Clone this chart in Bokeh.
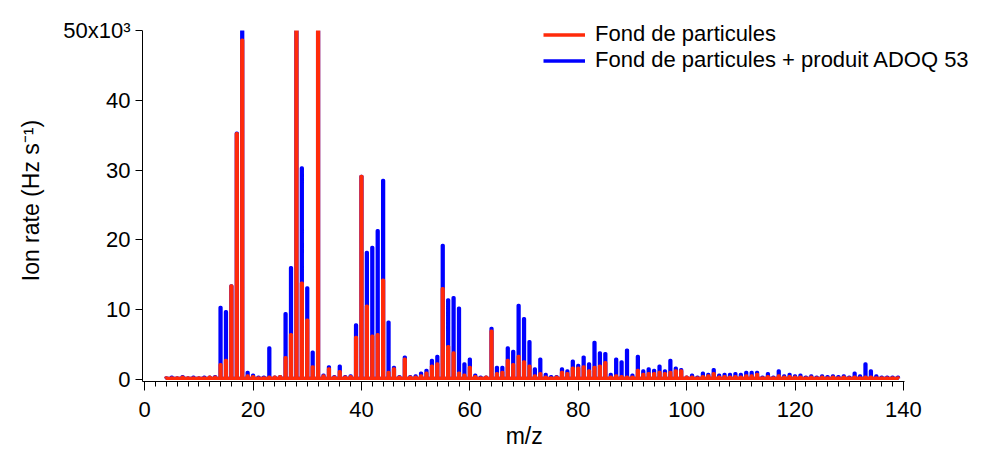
from bokeh.plotting import figure
from bokeh.models import Range1d, FixedTicker, Legend, LegendItem, ColumnDataSource, BoxAnnotation
from bokeh.embed import file_html
from bokeh.resources import INLINE

# m/z channels (integer masses)
mz = list(range(4, 140))

# Ion rate in units of 10^3 Hz s^-1
fond = [
    0.2, 0.2, 0.2, 0.3, 0.2, 0.2, 0.2, 0.2, 0.3, 0.3,          # 4-13
    2.1, 2.7, 13.4, 35.2, 48.6, 0.5, 0.4, 0.2, 0.2, 0.3,       # 14-23
    0.3, 0.4, 3.1, 6.4, 120.0, 13.8, 8.5, 1.8, 60.0, 0.5,      # 24-33
    1.5, 0.3, 1.1, 0.3, 0.4, 6.0, 29.1, 10.5, 6.2, 6.4,        # 34-43
    14.2, 1.0, 1.5, 0.3, 2.9, 0.3, 0.3, 0.5, 0.9, 1.9,         # 44-53
    2.2, 13.0, 4.7, 3.8, 0.9, 0.6, 1.7, 0.4, 0.2, 0.3,         # 54-63
    6.9, 0.8, 1.0, 2.7, 2.1, 3.3, 2.5, 1.9, 0.5, 0.8,          # 64-73
    0.3, 0.2, 0.3, 1.0, 0.8, 1.6, 1.6, 1.8, 1.2, 1.7,          # 74-83
    1.9, 2.4, 0.3, 0.5, 0.4, 0.3, 0.3, 1.3, 0.7, 0.8,          # 84-93
    0.8, 1.0, 0.8, 1.0, 1.2, 1.2, 0.3, 0.3, 0.2, 0.4,          # 94-103
    0.5, 0.8, 0.3, 0.4, 0.3, 0.4, 0.3, 0.5, 0.5, 0.7,          # 104-113
    0.2, 0.4, 0.2, 0.5, 0.3, 0.4, 0.3, 0.3, 0.2, 0.3,          # 114-123
    0.2, 0.3, 0.2, 0.3, 0.2, 0.3, 0.2, 0.3, 0.2, 0.3,          # 124-133
    0.3, 0.2, 0.2, 0.2, 0.2, 0.2,                              # 134-139
]
fond_produit = [
    0.2, 0.3, 0.2, 0.4, 0.2, 0.3, 0.2, 0.3, 0.3, 0.4,          # 4-13
    10.3, 9.7, 13.4, 35.3, 58.0, 1.0, 0.6, 0.3, 0.3, 4.5,      # 14-23
    0.3, 0.4, 9.4, 16.0, 125.0, 30.3, 13.1, 3.9, 62.0, 0.6,    # 24-33
    1.8, 0.4, 1.9, 0.4, 0.5, 7.8, 29.1, 18.2, 18.9, 21.3,      # 34-43
    28.5, 8.2, 1.7, 0.4, 3.2, 0.4, 0.5, 0.9, 1.3, 2.7,         # 44-53
    3.3, 19.2, 11.4, 11.7, 10.2, 2.2, 2.9, 0.6, 0.3, 0.3,      # 54-63
    7.3, 1.7, 1.7, 4.5, 4.0, 10.6, 8.7, 5.4, 1.5, 2.9,         # 64-73
    0.7, 0.4, 0.4, 1.5, 1.2, 2.6, 2.0, 3.2, 2.2, 5.3,          # 74-83
    3.8, 3.7, 0.7, 2.9, 2.5, 4.2, 0.6, 3.3, 1.2, 1.5,          # 84-93
    1.3, 1.9, 1.2, 2.7, 1.6, 1.4, 0.3, 0.6, 0.3, 0.9,          # 94-103
    0.7, 1.4, 0.6, 0.7, 0.7, 0.8, 0.7, 1.0, 1.0, 1.0,          # 104-113
    0.3, 0.8, 0.3, 1.2, 0.5, 0.7, 0.5, 0.6, 0.3, 0.5,          # 114-123
    0.3, 0.5, 0.4, 0.5, 0.4, 0.5, 0.3, 0.9, 0.5, 2.2,          # 124-133
    1.2, 0.5, 0.3, 0.3, 0.3, 0.3,                              # 134-139
]
baseline = 0.15

x_ticks = [0, 20, 40, 60, 80, 100, 120, 140]
y_ticks = [0, 10, 20, 30, 40, 50]
y_tick_labels = ["0", "10", "20", "30", "40", "50x10\u00b3"]
y_max = 50000

RED = "#ff2a0a"
BLUE = "#0000ff"
FONT = "Liberation Sans"
NBSP = "\u00a0"


def spectrum(vals):
    xs, ys = [], []
    b = baseline * 1000.0
    for m, v in zip(mz, vals):
        h = min(v * 1000.0, y_max)  # values beyond the axis top are clipped, as on the plot
        xs += [m - 0.08, m - 0.08, m + 0.08, m + 0.08]
        ys += [b, h, h, b]
    return ColumnDataSource(dict(x=xs, y=ys))


# frame: x from -0.4 (px 142) with 762 px per 140.6 units, extended to the window's right edge
px_per_x = 762 / 140.6
x_end = -0.4 + 840 / px_per_x
# y: 351 px per 50300 units, extended up to the window's top edge (30 px above 50k)
px_per_y = 351 / 50300
y_end = y_max + 30 / px_per_y

p = figure(width=982, height=451, output_backend="svg", toolbar_location=None,
           x_range=Range1d(-0.4, x_end), y_range=Range1d(-300, y_end),
           min_border_left=142, min_border_right=0,
           min_border_top=0, min_border_bottom=70)
p.outline_line_color = None
p.grid.visible = False
p.background_fill_color = "white"
p.border_fill_color = "white"

r_blue = p.line("x", "y", source=spectrum(fond_produit), line_color=BLUE,
                line_width=3.4, line_join="round")
r_red = p.line("x", "y", source=spectrum(fond), line_color=RED,
               line_width=3.4, line_join="round")

# hide line caps above the top of the y axis
p.add_layout(BoxAnnotation(bottom=y_max, fill_color="white", fill_alpha=1.0,
                           line_color=None))

# x axis (label padded so it stays centred under the drawn axis, not the wider frame)
xa = p.xaxis[0]
xa.ticker = FixedTicker(ticks=x_ticks, minor_ticks=list(range(0, 141, 2)))
xa.bounds = (-0.4, 140.2)
xa.axis_label = "m/z" + NBSP * 12
# y axis
ya = p.yaxis[0]
ya.ticker = FixedTicker(ticks=[t * 1000 for t in y_ticks], minor_ticks=[])
ya.bounds = (-300, y_max)
ya.major_label_overrides = {t * 1000: lab for t, lab in zip(y_ticks, y_tick_labels)}
ya.axis_label = "Ion rate (Hz s\u207b\u00b9)" + NBSP * 3

for ax in (xa, ya):
    ax.axis_line_color = "black"
    ax.axis_line_width = 1
    ax.major_tick_line_color = "black"
    ax.minor_tick_line_color = "black"
    ax.major_tick_in = 0
    ax.minor_tick_in = 0
    ax.major_label_text_font = FONT
    ax.major_label_text_font_size = "22px"
    ax.major_label_text_color = "black"
    ax.axis_label_text_font = FONT
    ax.axis_label_text_font_size = "23px"
    ax.axis_label_text_font_style = "normal"
    ax.axis_label_text_color = "black"

xa.major_tick_out = 9
xa.minor_tick_out = 5
xa.major_label_standoff = 11
xa.axis_label_standoff = 3
ya.major_tick_out = 7
ya.major_label_standoff = 5
ya.axis_label_standoff = 16

legend = Legend(items=[LegendItem(label="Fond de particules", renderers=[r_red]),
                       LegendItem(label="Fond de particules + produit ADOQ 53", renderers=[r_blue])],
                location=(401, 308))
legend.label_text_font = FONT
legend.label_text_font_size = "22px"
legend.label_text_color = "black"
legend.glyph_width = 42
legend.glyph_height = 25
legend.label_height = 25
legend.label_standoff = 10
legend.spacing = 0
legend.padding = 0
legend.margin = 0
legend.border_line_color = None
legend.background_fill_alpha = 0
p.add_layout(legend)

open("out.html", "w").write(file_html(p, INLINE))
